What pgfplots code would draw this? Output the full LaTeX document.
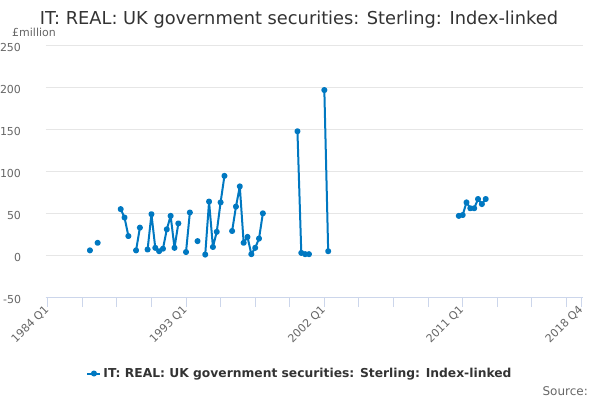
\documentclass[border=0pt]{standalone}
\usepackage{fontspec}
\setmainfont{DejaVu Sans}
\usepackage{pgfplots}
\pgfplotsset{compat=1.18}
\definecolor{serie}{RGB}{0,120,193}
\definecolor{gridc}{RGB}{230,230,230}
\definecolor{axisc}{RGB}{204,214,235}
\definecolor{labc}{RGB}{102,102,102}
\definecolor{titc}{RGB}{51,51,51}
\begin{document}
\begin{tikzpicture}[x=1pt,y=1pt]
\useasboundingbox (0,0) rectangle (600,400);
\node[anchor=center, text=titc, font=\fontsize{17.8}{20}\selectfont, inner sep=0pt] at (299,380) {IT: REAL: UK government securities: Sterling: Index-linked};
\node[anchor=west, text=labc, font=\fontsize{11}{13}\selectfont, inner sep=0pt] at (12,368) {£million};
\node[anchor=east, text=labc, font=\fontsize{12}{14}\selectfont, inner sep=0pt] at (588,9) {Source:};
\begin{axis}[
  at={(45.7pt,102.5pt)}, anchor=south west,
  scale only axis, width=537.6pt, height=252.5pt,
  xmin=-0.52, xmax=139.4, ymin=-50, ymax=250,
  axis lines*=left,
  x axis line style={draw=axisc, line width=1pt, -},
  y axis line style={draw=none},
  ytick={-50,0,50,100,150,200,250},
  ymajorgrids, grid style={draw=gridc, line width=0.8pt},
  xtick={0,36,72,108,139},
  minor xtick={9,18,27,45,54,63,81,90,99,117,126,135},
  xticklabels={1984 Q1,1993 Q1,2002 Q1,2011 Q1,2018 Q4},
  tick align=outside, major tick length=9.5pt, minor tick length=9.5pt,
  xtick style={draw=axisc, line width=1pt},
  minor x tick style={draw=axisc, line width=1pt},
  ytick style={draw=none},
  /pgf/number format/assume math mode=true,
  yticklabel style={anchor=east, inner sep=0pt, xshift=-15pt, yshift=-2pt, text=labc, font=\fontsize{11}{13}\selectfont},
  xticklabel style={rotate=45, anchor=east, inner sep=1pt, text=labc, font=\fontsize{11}{13}\selectfont},
  unbounded coords=jump,
  legend style={at={(0.473,-0.301)}, anchor=center, draw=none, fill=none, font=\bfseries\fontsize{12.3}{15}\selectfont, text=titc, inner sep=0pt},
  legend image code/.code={\draw[mark repeat=2,mark phase=2,#1] plot coordinates {(0pt,0pt) (6.5pt,0pt) (13pt,0pt)};},
]
\addplot[color=serie, line width=2pt, line join=round, mark=*, mark size=2pt, mark options={solid}] coordinates {
(11,6) (12,nan) (13,15) (14,nan)
(19,55) (20,45) (21,23) (22,nan)
(23,6) (24,33) (25,nan)
(26,7) (27,49) (28,9) (29,5) (30,8) (31,31) (32,47) (33,9) (34,38) (35,nan)
(36,4) (37,51) (38,nan)
(39,17) (40,nan)
(41,1) (42,64) (43,10) (44,28) (45,63) (46,94.5) (47,nan)
(48,29) (49,58) (50,82) (51,15) (52,22) (53,1.5) (54,9) (55,20) (56,50) (57,nan)
(65,147.5) (66,3) (67,1.5) (68,1.5) (69,nan)
(72,196.5) (73,5) (74,nan)
(107,47) (108,48) (109,63) (110,56) (111,56) (112,67) (113,61) (114,67)
};
\addlegendentry{IT: REAL: UK government securities: Sterling: Index-linked}
\end{axis}
\end{tikzpicture}
\end{document}
